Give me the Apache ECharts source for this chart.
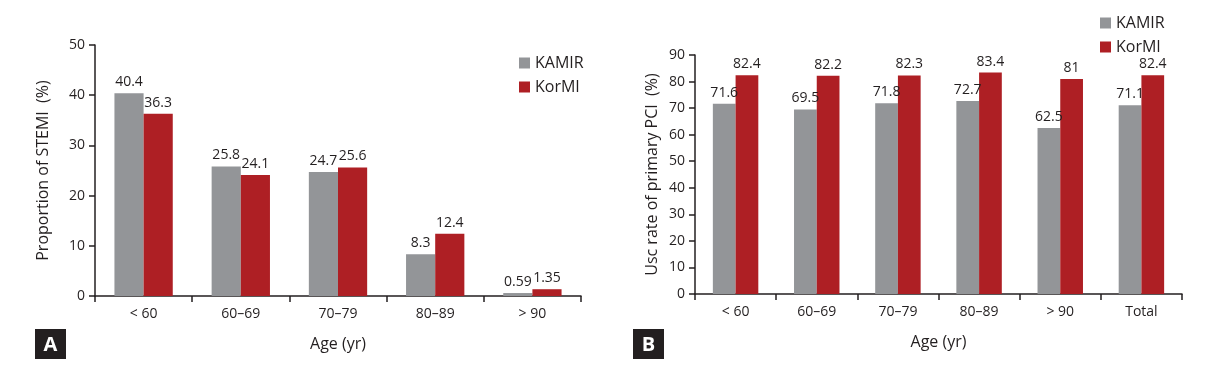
<!DOCTYPE html>
<html>
<head>
<meta charset="utf-8">
<script src="https://cdn.jsdelivr.net/npm/echarts@6/dist/echarts.min.js"></script>
<style>
html,body{margin:0;padding:0;background:#fff;}
#c{width:1205px;height:369px;}
</style>
</head>
<body>
<div id="c"></div>
<script>
const categoriesA = ['< 60', '60–69', '70–79', '80–89', '> 90'];
const kamirA = [40.4, 25.8, 24.7, 8.3, 0.59];
const kormiA = [36.3, 24.1, 25.6, 12.4, 1.35];

const categoriesB = ['< 60', '60–69', '70–79', '80–89', '> 90', 'Total'];
const kamirB = [71.6, 69.5, 71.8, 72.7, 62.5, 71.1];
const kormiB = [82.4, 82.2, 82.3, 83.4, 81, 82.4];

const FONT = '"Open Sans", "Noto Sans", sans-serif';
const TXT = '#231f20';
const GRAY = '#939598';
const RED = '#ae1f24';

const chart = echarts.init(document.getElementById('c'));

function xAxis(gi, cats) {
  return {
    type: 'category', gridIndex: gi, data: cats,
    name: 'Age (yr)', nameLocation: 'middle', nameGap: 40,
    nameTextStyle: {fontFamily: FONT, fontSize: 16, color: TXT},
    axisLine: {lineStyle: {color: TXT, width: 1.5}},
    axisTick: {show: true, length: 6, lineStyle: {color: TXT, width: 1.5}},
    axisLabel: {fontFamily: FONT, fontSize: 14, color: TXT, margin: 11}
  };
}
function yAxis(gi, max, name, gap) {
  return {
    type: 'value', gridIndex: gi, min: 0, max: max, interval: 10,
    name: name, nameLocation: 'middle', nameGap: gap,
    nameTextStyle: {fontFamily: FONT, fontSize: 16, color: TXT},
    axisLine: {show: true, lineStyle: {color: TXT, width: 1.5}},
    axisTick: {show: true, length: 6, lineStyle: {color: TXT, width: 1.5}},
    axisLabel: {fontFamily: FONT, fontSize: 14, color: TXT, margin: 10},
    splitLine: {show: false}
  };
}
const lbl = {show: true, position: 'top', distance: 4, fontFamily: FONT, fontSize: 14, color: TXT};

chart.setOption({
  animation: false,
  textStyle: {fontFamily: FONT},
  grid: [
    {left: 95, right: 624, top: 45, bottom: 73},
    {left: 695, right: 23, top: 55, bottom: 75}
  ],
  legend: [
    {data: ['KAMIR', 'KorMI'], orient: 'vertical', left: 514, top: 50, itemWidth: 11, itemHeight: 11, itemGap: 8,
     icon: 'rect', textStyle: {fontFamily: FONT, fontSize: 16, color: TXT}},
    {data: ['KAMIR B', 'KorMI B'], orient: 'vertical', left: 1095, top: 10, itemWidth: 11, itemHeight: 11, itemGap: 8,
     icon: 'rect', formatter: n => n.replace(' B', ''), textStyle: {fontFamily: FONT, fontSize: 16, color: TXT}}
  ],
  xAxis: [xAxis(0, categoriesA), xAxis(1, categoriesB)],
  yAxis: [yAxis(0, 50, 'Proportion of STEMI  (%)', 44), yAxis(1, 90, 'Usc rate of primary PCI  (%)', 35)],
  series: [
    {name: 'KAMIR', type: 'bar', xAxisIndex: 0, yAxisIndex: 0, data: kamirA, itemStyle: {color: GRAY}, barGap: '0%', barCategoryGap: '40%', label: lbl},
    {name: 'KorMI', type: 'bar', xAxisIndex: 0, yAxisIndex: 0, data: kormiA, itemStyle: {color: RED}, barGap: '0%', barCategoryGap: '40%', label: lbl},
    {name: 'KAMIR B', type: 'bar', xAxisIndex: 1, yAxisIndex: 1, data: kamirB, itemStyle: {color: GRAY}, barGap: '0%', barCategoryGap: '44%', label: lbl},
    {name: 'KorMI B', type: 'bar', xAxisIndex: 1, yAxisIndex: 1, data: kormiB, itemStyle: {color: RED}, barGap: '0%', barCategoryGap: '44%', label: lbl}
  ],
  graphic: [
    {type: 'rect', x: 35, y: 329, shape: {width: 31, height: 30}, style: {fill: TXT}},
    {type: 'text', x: 50.5, y: 345, style: {text: 'A', fill: '#fff', font: 'bold 20px "Open Sans", sans-serif', align: 'center', verticalAlign: 'middle'}},
    {type: 'rect', x: 633, y: 329, shape: {width: 31, height: 30}, style: {fill: TXT}},
    {type: 'text', x: 648.5, y: 345, style: {text: 'B', fill: '#fff', font: 'bold 20px "Open Sans", sans-serif', align: 'center', verticalAlign: 'middle'}}
  ]
});
</script>
</body>
</html>
